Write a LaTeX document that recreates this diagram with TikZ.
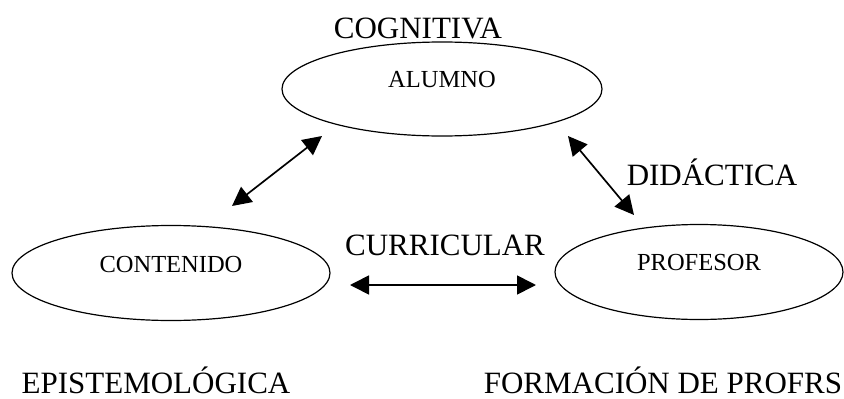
\documentclass[tikz,border=0pt]{standalone}
\usepackage{fontspec}
\setmainfont{Liberation Serif}
\usetikzlibrary{shapes.geometric,arrows.meta}
\begin{document}
\begin{tikzpicture}[x=1pt,y=-1pt,
  oval/.style={draw,ellipse,line width=1.2pt,inner sep=0pt},
  inner/.style={font=\fontsize{24.5}{24.5}\selectfont,inner sep=0pt},
  lbl/.style={font=\fontsize{31}{31}\selectfont,inner sep=0pt},
  dbl/.style={line width=1.7pt,{Triangle[length=19pt,width=19pt]}-{Triangle[length=19pt,width=19pt]}}]
\useasboundingbox (0,0) rectangle (844,399);
% ellipses
\node[oval,minimum width=320pt,minimum height=94pt] (al) at (442,89) {};
\node[oval,minimum width=318pt,minimum height=95pt] (co) at (171,273) {};
\node[oval,minimum width=288pt,minimum height=95pt] (pr) at (699,272) {};
% inner texts
\node[inner] (alt) at ([yshift=9pt]al.center) {ALUMNO};
\node[inner] (cot) at ([yshift=8pt]co.center) {CONTENIDO};
\node[inner] (prt) at ([yshift=9pt]pr.center) {PROFESOR};
% labels
\node[lbl] (cog) at (418,28) {COGNITIVA};
\node[lbl] (did) at (712,172) {DIDÁCTICA};
\node[lbl] (cur) at (445,245) {CURRICULAR};
\node[lbl] (epi) at (156,380) {EPISTEMOLÓGICA};
\node[lbl] (for) at (663,380) {FORMACIÓN DE PROFRS};
% arrow ends
\coordinate (a1) at (232,206);
\coordinate (a2) at (322,136);
\coordinate (b1) at (568,136);
\coordinate (b2) at (634,215);
\coordinate (c1) at (350,285);
\coordinate (c2) at (536,285);
\draw[dbl] (a1) -- (a2);
\draw[dbl] (b1) -- (b2);
\draw[dbl] (c1) -- (c2);
\end{tikzpicture}
\end{document}
